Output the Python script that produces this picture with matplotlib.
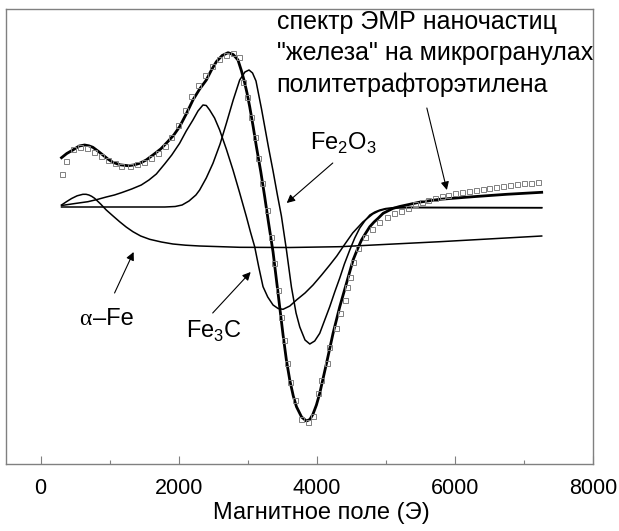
import matplotlib
matplotlib.use("Agg")
import matplotlib.pyplot as plt
from matplotlib.ticker import MultipleLocator

plt.rcParams['font.family'] = ['Liberation Sans', 'DejaVu Sans']
plt.rcParams['mathtext.fontset'] = 'custom'
plt.rcParams['mathtext.rm'] = 'Liberation Sans'

# экспериментальный спектр (квадраты)
exp_field = [310, 362, 468, 565, 671, 772, 870, 975, 1072, 1170, 1290, 1401, 1497,
             1604, 1700, 1797, 1894, 1990, 2087, 2184, 2280, 2380, 2480, 2580, 2680,
             2780, 2874, 2939, 2994, 3054, 3102, 3153, 3213, 3274, 3333, 3386, 3434,
             3481, 3523, 3572, 3616, 3682, 3778, 3874, 3946, 4019, 4068, 4141, 4178,
             4275, 4333, 4406, 4445, 4488, 4526, 4594, 4696, 4793, 4903, 5010, 5116,
             5217, 5323, 5420, 5517, 5613, 5710, 5807, 5903, 6000, 6100, 6200, 6300,
             6400, 6500, 6600, 6700, 6800, 6900, 7000, 7100, 7200]
exp_signal = [3.27, 4.6, 5.8, 6.03, 5.87, 5.53, 5.13, 4.7, 4.37, 4.1, 4.1, 4.27, 4.53,
              4.93, 5.45, 6.15, 7.03, 8.2, 9.7, 11.13, 12.2, 13.2, 14.1, 14.8, 15.25,
              15.37, 15.03, 12.5, 11.0, 9.0, 7.0, 4.9, 2.4, -0.3, -3.0, -5.6, -8.3,
              -11.0, -13.3, -15.6, -17.5, -19.3, -21.2, -21.5, -20.9, -18.6, -17.3, -15.6, -14.0,
              -12.1, -10.6, -9.3, -8.0, -7.0, -5.5, -4.1, -2.97, -2.23, -1.53, -1.03, -0.63,
              -0.37, -0.07, 0.3, 0.53, 0.7, 0.93, 1.1, 1.2, 1.37, 1.48, 1.6, 1.72,
              1.84, 1.94, 2.04, 2.14, 2.24, 2.31, 2.37, 2.42, 2.47]

# суммарная подгонка (жирная линия)
sum_field = [304, 380, 468, 560, 638, 700, 758, 830, 903, 975, 1048, 1150, 1265, 1350,
             1435, 1530, 1628, 1740, 1842, 1930, 2014, 2110, 2207, 2300, 2401, 2475,
             2546, 2630, 2715, 2790, 2859, 2910, 2950, 2990, 3029, 3080, 3126, 3190,
             3246, 3300, 3367, 3439, 3512, 3560, 3609, 3660, 3706, 3780, 3850, 3900,
             3946, 3995, 4043, 4141, 4236, 4333, 4430, 4526, 4590, 4648, 4710, 4768,
             4830, 4888, 4961, 5100, 5200, 5300, 5500, 5783, 6265, 6749, 7257]
sum_signal = [4.93, 5.35, 5.7, 6.1, 6.2, 6.12, 5.97, 5.6, 5.2, 4.8, 4.47, 4.22, 4.13, 4.2,
              4.37, 4.7, 5.2, 5.8, 6.53, 7.2, 8.03, 9.3, 10.7, 11.75, 12.7, 13.7,
              14.53, 15.15, 15.43, 15.25, 14.7, 13.6, 12.6, 11.4, 10.03, 8.0, 6.03, 3.5,
              1.03, -1.5, -4.5, -8.6, -12.8, -15.3, -17.3, -18.9, -19.97, -21.0, -21.4, -21.25,
              -20.7, -19.8, -18.63, -15.63, -12.63, -9.97, -7.63, -5.3, -4.2, -3.3, -2.6, -1.97,
              -1.5, -1.13, -0.63, -0.15, 0.05, 0.2, 0.5, 0.77, 1.03, 1.27, 1.47]

# компонента Fe2O3
fe2o3_field = [304, 1800, 1950, 2050, 2150, 2250, 2304, 2400, 2497, 2600, 2691, 2790,
               2884, 2960, 3019, 3070, 3120, 3200, 3300, 3367, 3430, 3488, 3561, 3633,
               3700, 3754, 3830, 3899, 3970, 4043, 4110, 4188, 4260, 4333, 4400, 4478,
               4550, 4623, 4700, 4768, 4840, 4913, 5000, 5130, 7257]
fe2o3_signal = [0, 0, 0.05, 0.2, 0.6, 1.2, 1.7, 2.9, 4.37, 6.3, 8.37, 10.7,
                12.7, 13.5, 13.7, 13.4, 12.6, 9.8, 6.0, 3.6, 1.2, -0.9, -4.3, -8.0,
                -10.6, -12.0, -13.3, -13.7, -13.4, -12.63, -11.4, -9.97, -8.5, -7.1, -5.7, -4.3,
                -3.1, -2.1, -1.35, -0.8, -0.5, -0.3, -0.15, -0.05, -0.07]

# компонента Fe3C
fe3c_field = [304, 500, 686, 820, 952, 1070, 1180, 1320, 1459, 1570, 1677, 1797, 1900,
              2014, 2110, 2207, 2280, 2352, 2400, 2449, 2520, 2594, 2690, 2787, 2880,
              2981, 3040, 3101, 3160, 3222, 3290, 3367, 3440, 3512, 3610, 3706, 3830,
              3946, 4070, 4188, 4290, 4381, 4520, 4667, 4812, 4900, 5000, 5150, 5348, 7257]
fe3c_signal = [0.15, 0.35, 0.53, 0.75, 1.0, 1.2, 1.45, 1.8, 2.2, 2.7, 3.3, 4.3, 5.2,
               6.37, 7.6, 8.7, 9.6, 10.2, 10.15, 9.7, 8.9, 7.7, 5.8, 3.7, 1.5,
               -0.97, -2.5, -3.97, -6.0, -7.97, -9.0, -9.8, -10.15, -10.23, -9.9, -9.3, -8.6,
               -7.8, -6.8, -5.8, -4.9, -3.97, -2.6, -1.5, -0.7, -0.4, -0.2, -0.1, -0.05, -0.07]

# компонента alpha-Fe
afe_field = [304, 380, 450, 530, 613, 660, 700, 740, 783, 870, 952, 1050, 1145, 1240,
             1338, 1450, 1580, 1750, 1917, 2100, 2304, 2884, 3609, 4333, 5783, 7257]
afe_signal = [0.2, 0.55, 0.85, 1.12, 1.27, 1.27, 1.2, 1.07, 0.87, 0.3, -0.3, -0.9, -1.47, -2.0,
              -2.47, -2.9, -3.23, -3.5, -3.7, -3.82, -3.9, -4.03, -4.05, -3.97, -3.47, -2.9]

fig = plt.figure(figsize=(6.19, 5.31), dpi=100)
ax = fig.add_axes([6 / 619, 67 / 531, 587 / 619, 455 / 531])

ax.plot(afe_field, afe_signal, color='black', lw=1.1)
ax.plot(fe3c_field, fe3c_signal, color='black', lw=1.1)
ax.plot(fe2o3_field, fe2o3_signal, color='black', lw=1.1)
ax.plot(sum_field, sum_signal, color='black', lw=2.0)
ax.plot(exp_field, exp_signal, ls='none', marker='s', ms=3.6, mfc='none',
        mec='#808080', mew=0.7)

ax.set_xlim(-500, 8000)
ax.set_ylim(-25.7, 19.8)
ax.set_yticks([])
ax.xaxis.set_major_locator(MultipleLocator(2000))
ax.xaxis.set_minor_locator(MultipleLocator(1000))
ax.tick_params(axis='x', which='major', direction='in', length=6, width=0.8,
               color='#808080', labelsize=15.5, pad=10)
ax.tick_params(axis='x', which='minor', direction='in', length=3, width=0.8,
               color='#808080')
for sp in ax.spines.values():
    sp.set_color('#808080')
    sp.set_linewidth(1.0)

fig.text(321 / 619, 1 - 513 / 531, 'Магнитное поле (Э)', ha='center', va='center',
         fontsize=17)

arr = dict(arrowstyle='-|>', color='black', lw=0.8, mutation_scale=12,
           shrinkA=0, shrinkB=0)

ax.text(3420, 19.7, 'спектр ЭМР наночастиц\n"железа" на микрогранулах\nполитетрафторэтилена',
        ha='left', va='top', fontsize=18, linespacing=1.38)
ax.annotate('', xy=(5884, 1.7), xytext=(5594, 9.9), arrowprops=arr)

ax.text(3899, 5.7, r'Fe$_\mathregular{2}$O$_\mathregular{3}$', ha='left',
        va='baseline', fontsize=17)
ax.annotate('', xy=(3565, 0.4), xytext=(4232, 4.4), arrowprops=arr)

ax.text(565, -11.8, 'α', ha='left', va='baseline', fontsize=17,
        family=['Liberation Serif', 'DejaVu Serif'])
ax.text(760, -11.8, '–Fe', ha='left', va='baseline', fontsize=17)
ax.annotate('', xy=(1348, -4.5), xytext=(1072, -8.6), arrowprops=arr)

ax.text(2101, -13.1, r'Fe$_\mathregular{3}$C', ha='left', va='baseline', fontsize=17)
ax.annotate('', xy=(3043, -6.5), xytext=(2493, -10.6), arrowprops=arr)

fig.savefig('out.png', dpi=100)
